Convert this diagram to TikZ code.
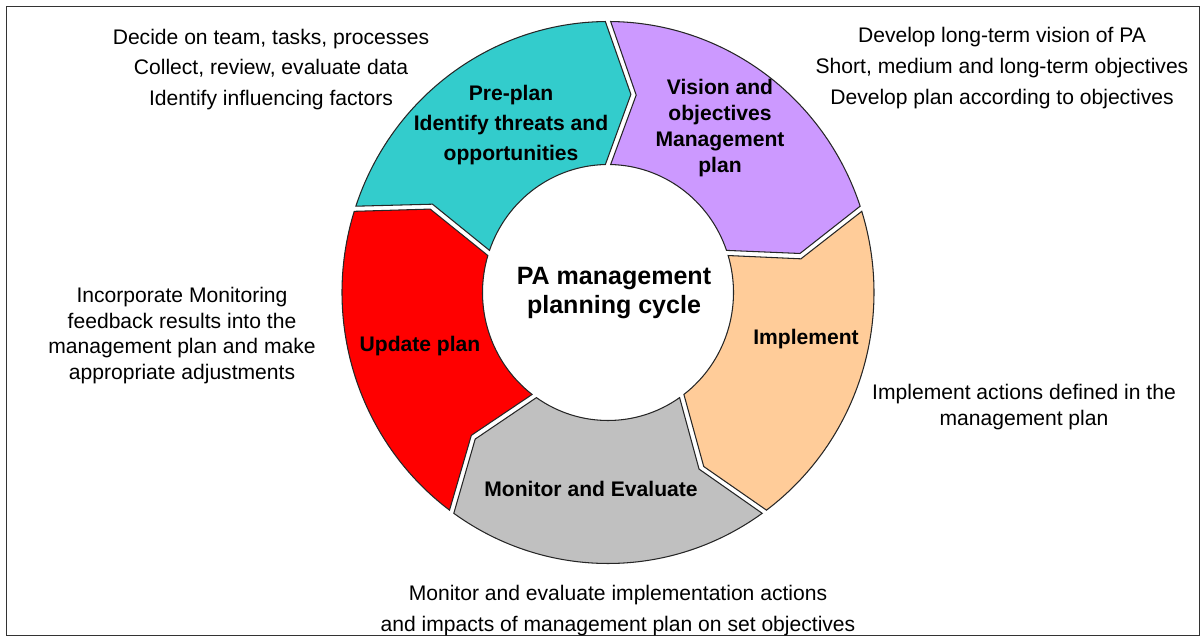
\documentclass[tikz,border=0pt]{standalone}
\usepackage{fontspec}
\setmainfont{Liberation Sans}

\definecolor{preplan}{HTML}{33CCCC}
\definecolor{vision}{HTML}{CC99FF}
\definecolor{implement}{HTML}{FFCC99}
\definecolor{monitor}{HTML}{C0C0C0}
\definecolor{update}{HTML}{FF0000}

% radii of the ring (outer, inner, middle), x and y
\newcommand{\Rx}{266}\newcommand{\Ry}{271}
\newcommand{\rx}{125.5}\newcommand{\ry}{128}
\newcommand{\Mx}{195.75}\newcommand{\My}{199.5}

% one 72 degree piece of the ring, #1 = start angle, #2 = colour
\newcommand{\ringpart}[2]{%
  \filldraw[part, fill=#2]
    ({#1-0.57}:\Rx\space and \Ry)
    arc[start angle={#1-0.57}, end angle={#1-72+0.57}, x radius=\Rx, y radius=\Ry]
    -- ({#1-72-7.5+0.78}:\Mx\space and \My)
    -- ({#1-72+1.21}:\rx\space and \ry)
    arc[start angle={#1-72+1.21}, end angle={#1-1.21}, x radius=\rx, y radius=\ry]
    -- ({#1-7.5-0.78}:\Mx\space and \My)
    -- cycle;}

\begin{document}
\begin{tikzpicture}[x=0.02cm,y=0.02cm,
  part/.style={draw=black!85,line width=0.6pt,line join=miter},
  side/.style={align=center,font=\fontsize{12}{17.6}\selectfont},
  stage/.style={align=center,font=\bfseries\fontsize{12}{17}\selectfont}]
  \useasboundingbox (0,0) rectangle (1201,637);
  \draw[black!80,line width=0.7pt] (6.5,1.2) rectangle (1199.8,630.3);

  \begin{scope}[shift={(608,344.5)}]
    \ringpart{162}{preplan}
    \ringpart{90}{vision}
    \ringpart{18}{implement}
    \ringpart{-54}{monitor}
    \ringpart{-126}{update}
  \end{scope}

  \node[stage,font=\bfseries\fontsize{14.25}{17}\selectfont] (0) at (614,344) {PA management\\planning cycle};

  \node[stage] (1) at (511,512) {Pre-plan\\Identify threats and\\opportunities};
  \node[stage,font=\bfseries\fontsize{12}{14.7}\selectfont] (2) at (720,509) {Vision and\\objectives\\Management\\plan};
  \node[stage] (3) at (806,298) {Implement};
  \node[stage] (4) at (591,148.5) {Monitor and Evaluate};
  \node[stage] (5) at (420,291) {Update plan};

  \node[side] (6) at (271,567.5) {Decide on team, tasks, processes\\Collect, review, evaluate data\\Identify influencing factors};
  \node[side] (7) at (1002,569) {Develop long-term vision of PA\\Short, medium and long-term objectives\\Develop plan according to objectives};
  \node[side,font=\fontsize{12}{14.6}\selectfont] (8) at (182,301.5) {Incorporate Monitoring\\feedback results into the\\management plan and make\\appropriate adjustments};
  \node[side,font=\fontsize{12}{14.6}\selectfont] (9) at (1024,230) {Implement actions defined in the\\management plan};
  \node[side,font=\fontsize{12}{18.1}\selectfont] (10) at (618,26.5) {Monitor and evaluate implementation actions\\and impacts of management plan on set objectives};
\end{tikzpicture}
\end{document}
